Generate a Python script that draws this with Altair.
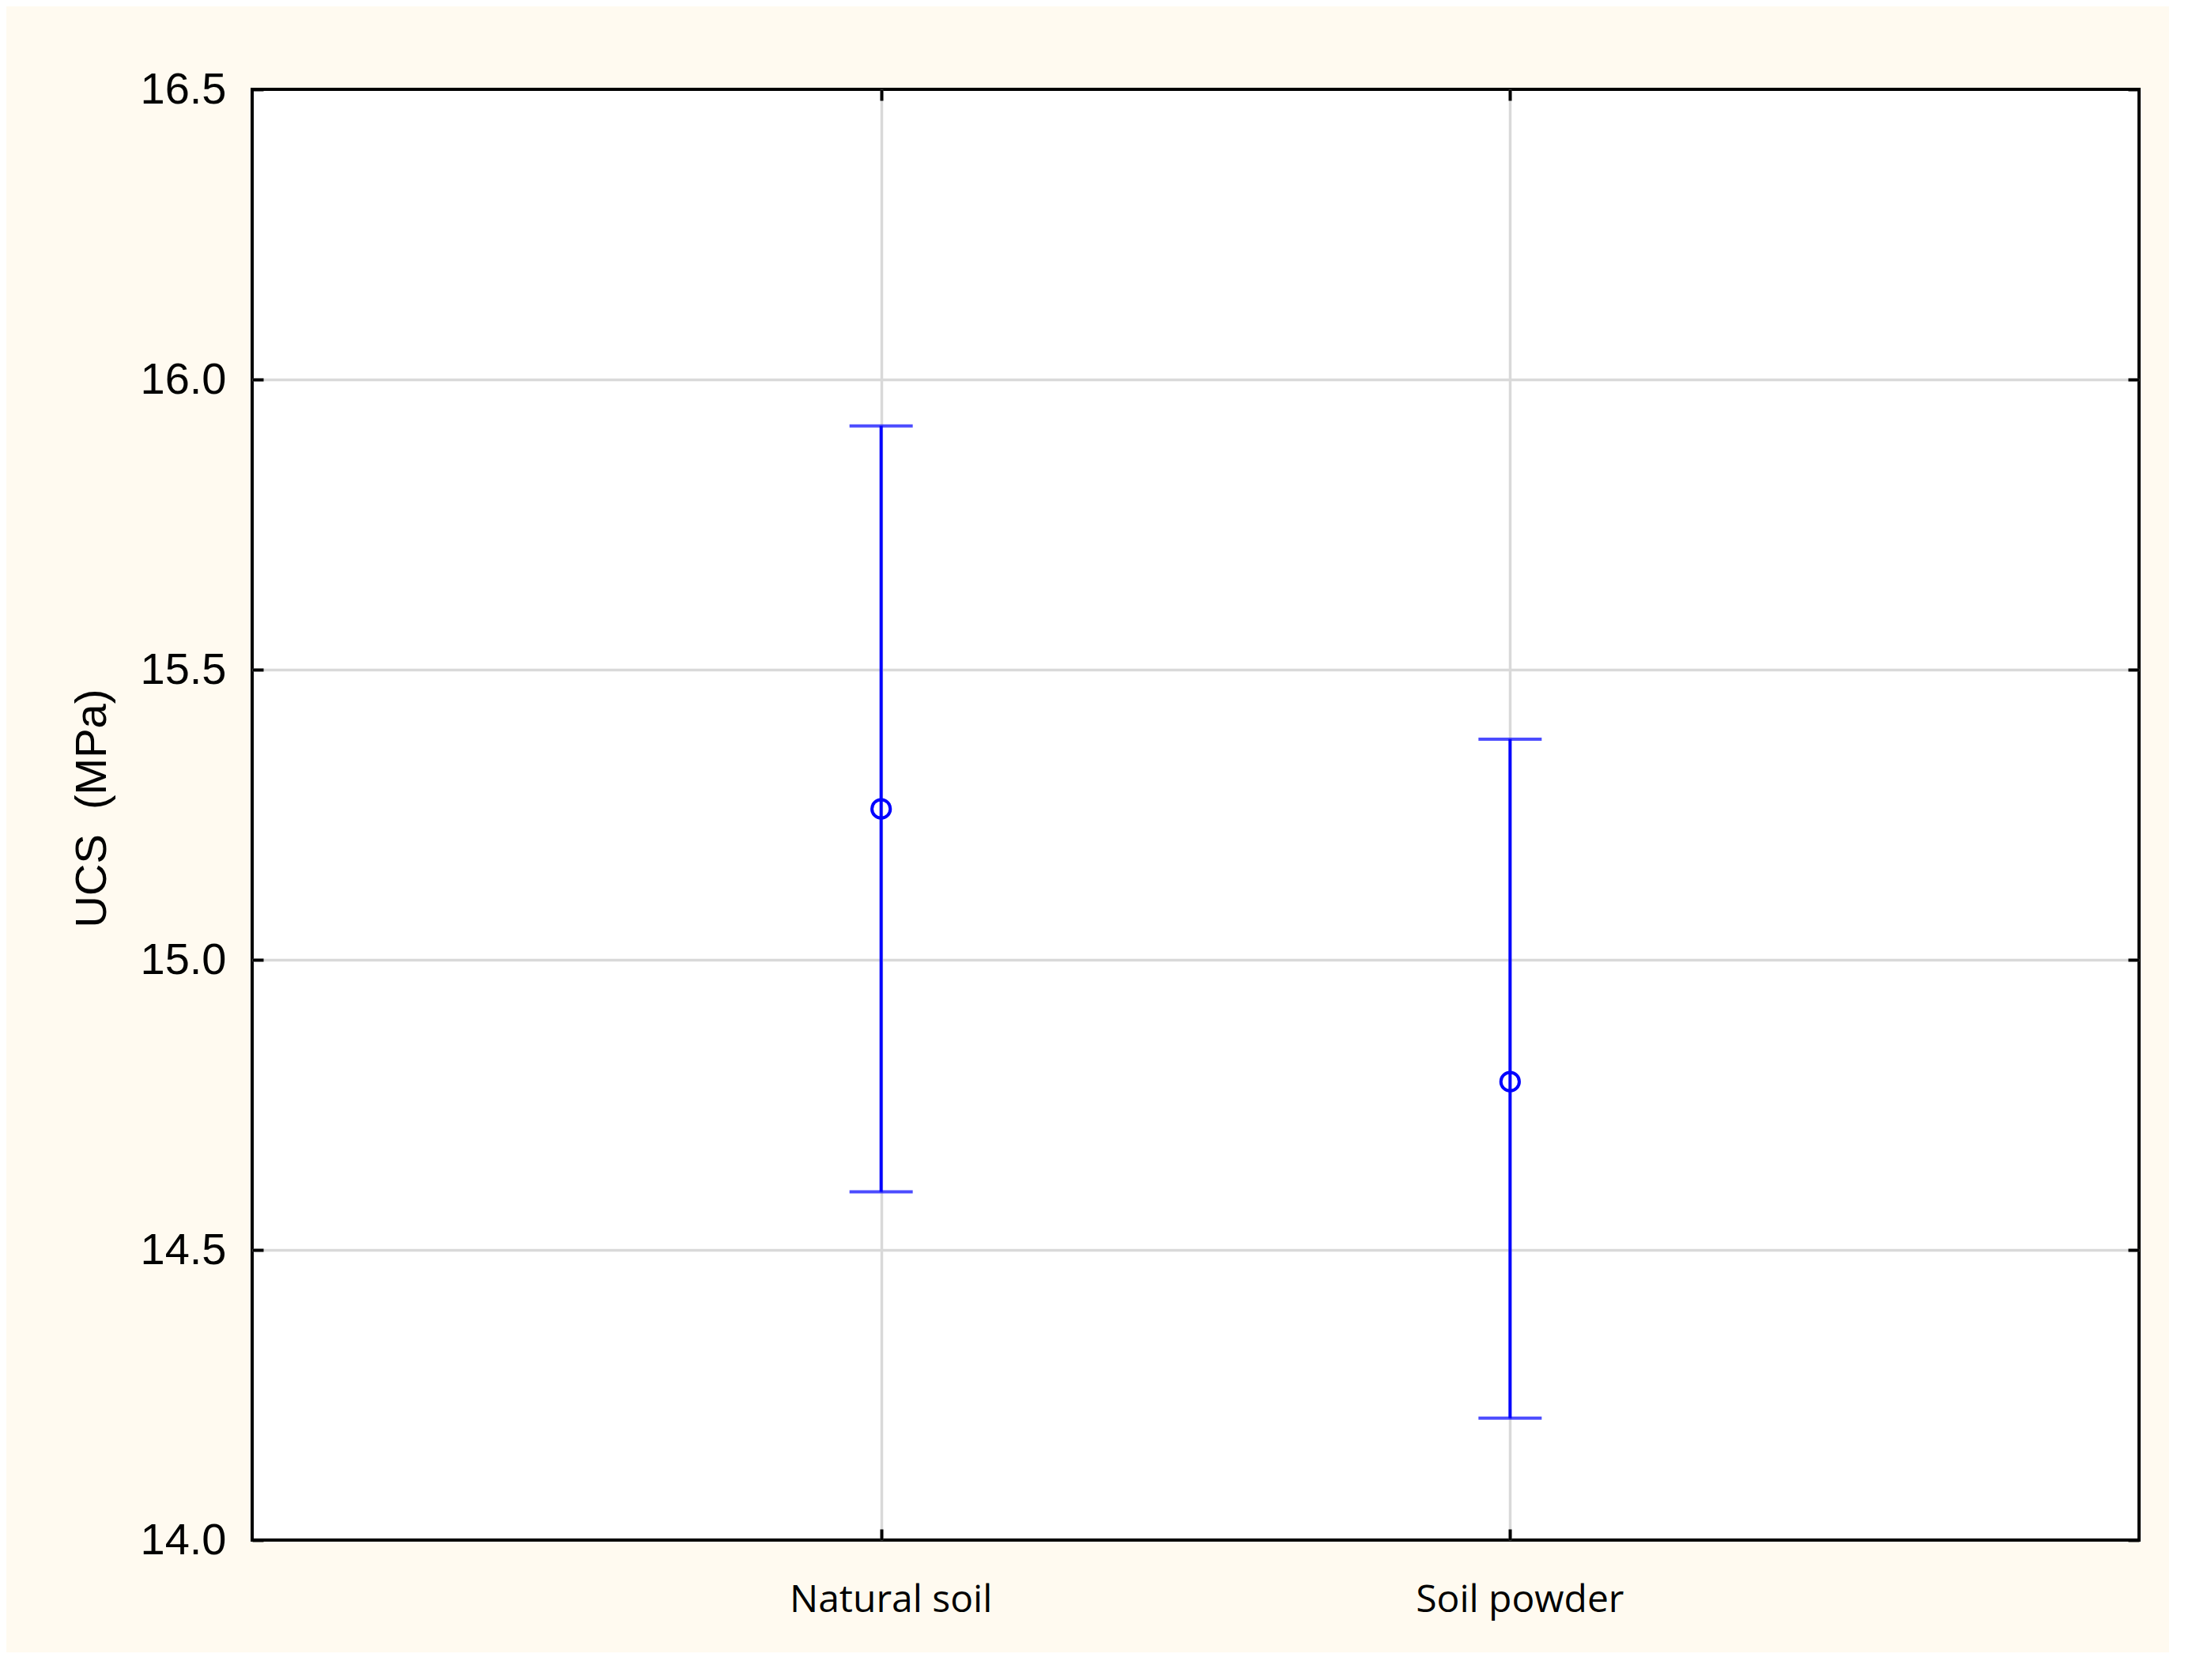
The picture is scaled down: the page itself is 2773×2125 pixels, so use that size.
import altair as alt
import pandas as pd

categories = ["Natural soil", "Soil powder"]
means = [15.26, 14.79]
lower = [14.60, 14.21]
upper = [15.92, 15.38]
y_ticks = [14.0, 14.5, 15.0, 15.5, 16.0, 16.5]

df = pd.DataFrame({"cat": categories, "mean": means, "lower": lower, "upper": upper})

W, H = 2387, 1835
BLUE = "#0000ff"
GRID = "#d9d9d9"

x_scale = alt.Scale(type="point", padding=1, domain=categories)
y_scale = alt.Scale(domain=[14.0, 16.5], nice=False, zero=False)

edge_hide = {"condition": {"test": "datum.value == 14 || datum.value == 16.5", "value": 0}, "value": 1}

x_bottom = alt.Axis(
    orient="bottom", title=None, labelAngle=0, domain=False,
    grid=True, gridColor=GRID, gridWidth=3.5,
    ticks=True, tickColor="black", tickWidth=4, tickSize={"expr": "-14"},
    labelFont="Open Sans", labelFontSize=48, labelColor="black",
    labelPadding=66, labelOffset=12, labelLimit=0,
)
y_left = alt.Axis(
    orient="left", values=y_ticks, format=".1f", domain=False,
    grid=True, gridColor=GRID, gridWidth=3.5, gridOpacity=edge_hide,
    ticks=True, tickColor="black", tickWidth=4, tickSize={"expr": "-14"},
    labelFont="Liberation Sans", labelFontSize=56, labelColor="black",
    labelPadding=47, labelLimit=0,
    title="UCS \u00a0(MPa)", titleFont="Liberation Sans", titleFontSize=56,
    titleFontWeight="normal", titleColor="black", titleAngle=270,
    titleX=-186, titleY=909, titleBaseline="alphabetic", titleAlign="center",
)
x_top = alt.Axis(
    orient="top", title=None, labels=False, domain=False, grid=False,
    ticks=True, tickColor="black", tickWidth=4, tickSize={"expr": "-14"},
)
y_right = alt.Axis(
    orient="right", title=None, labels=False, domain=False, grid=False,
    values=y_ticks,
    ticks=True, tickColor="black", tickWidth=4, tickSize={"expr": "-14"},
)

base = alt.Chart(df)

bars = base.mark_rule(color=BLUE, strokeWidth=4).encode(
    x=alt.X("cat:N", scale=x_scale, axis=x_bottom),
    y=alt.Y("lower:Q", scale=y_scale, axis=y_left),
    y2="upper:Q",
)
cap_hi = base.mark_tick(color=BLUE, size=80, thickness=4).encode(
    x=alt.X("cat:N", scale=x_scale, axis=None),
    y=alt.Y("upper:Q", scale=y_scale, axis=None),
)
cap_lo = base.mark_tick(color=BLUE, size=80, thickness=4).encode(
    x=alt.X("cat:N", scale=x_scale, axis=None),
    y=alt.Y("lower:Q", scale=y_scale, axis=None),
)
pts = base.mark_point(shape="circle", filled=False, color=BLUE, size=540, strokeWidth=4, opacity=1).encode(
    x=alt.X("cat:N", scale=x_scale, axis=x_top),
    y=alt.Y("mean:Q", scale=y_scale, axis=y_right),
)

chart = (
    alt.layer(bars, cap_hi, cap_lo, pts)
    .resolve_scale(x="shared", y="shared")
    .resolve_axis(x="independent", y="independent")
    .properties(
        width=W, height=H,
        background="#fffaf0",
        autosize=alt.AutoSizeParams(type="none"),
        padding={"left": 311, "top": 105, "right": 38, "bottom": 142},
    )
    .configure_view(fill="white", stroke="black", strokeWidth=4)
)

chart.save("out.html", embed_options={"renderer": "svg", "actions": False})
